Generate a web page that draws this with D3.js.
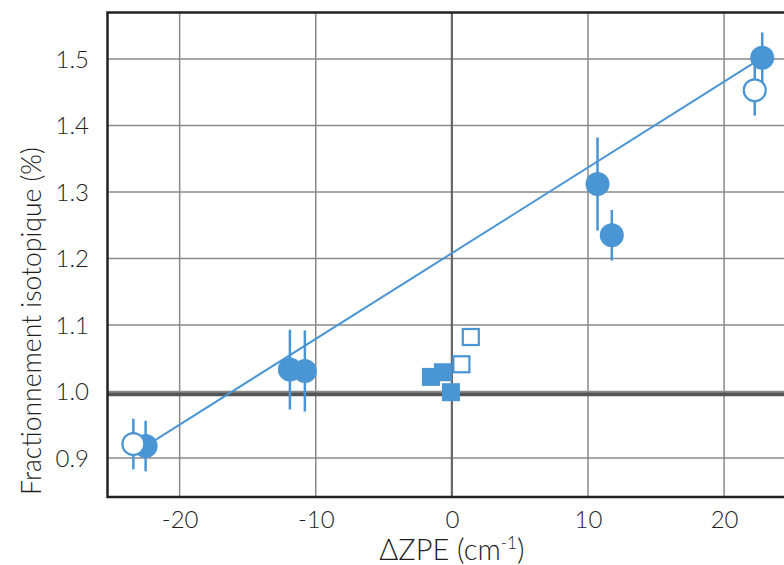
<!DOCTYPE html>
<html>
<head>
<meta charset="utf-8">
<script src="https://cdn.jsdelivr.net/npm/d3@7"></script>
<style>
  html, body { margin: 0; padding: 0; background: #fff; }
  svg { display: block; }
  text { font-family: "Lato", "Open Sans", sans-serif; font-weight: 300; fill: #1e1e1e; }
</style>
</head>
<body>
<script>
// ---- data ----
const xTicks = [-20, -10, 0, 10, 20];
const yTicks = [0.9, 1.0, 1.1, 1.2, 1.3, 1.4, 1.5];
const yTickLabels = ["0.9", "1.0", "1.1", "1.2", "1.3", "1.4", "1.5"];

const filledCircleX = [-22.5, -11.9, -10.8, 10.7, 11.75, 22.8];
const filledCircleY = [0.918, 1.033, 1.031, 1.312, 1.235, 1.502];
const filledCircleErr = [0.038, 0.060, 0.061, 0.070, 0.038, 0.038];

const openCircleX = [-23.4, 22.25];
const openCircleY = [0.921, 1.453];
const openCircleErr = [0.038, 0.038];

const filledSquareX = [-1.54, -0.66, -0.07];
const filledSquareY = [1.022, 1.029, 0.999];

const openSquareX = [0.70, 1.39];
const openSquareY = [1.041, 1.082];

const trendX = [-22.5, 22.8];
const trendY = [0.918, 1.502];

const refLineY = 0.996;
const refLineX = 0;

// ---- layout ----
const W = 784, H = 565;
const blue = "#4a95d3";
const svg = d3.select("body").append("svg").attr("width", W).attr("height", H);

const x = d3.scaleLinear().domain([-25.3, 24.4]).range([107.5, 784]);
const y = d3.scaleLinear().domain([0.8414, 1.570]).range([497, 12.5]);

const xr = x.range(), yr = y.range();

// grid
const grid = svg.append("g");
grid.selectAll("line.gx").data(xTicks.filter(d => d !== 0)).join("line")
  .attr("x1", d => x(d)).attr("x2", d => x(d))
  .attr("y1", yr[1]).attr("y2", yr[0])
  .attr("stroke", "#8a8a8a").attr("stroke-width", 1.5);
grid.selectAll("line.gy").data(yTicks).join("line")
  .attr("x1", xr[0]).attr("x2", xr[1])
  .attr("y1", d => y(d)).attr("y2", d => y(d))
  .attr("stroke", "#8a8a8a").attr("stroke-width", 1.5);

// zero vertical line
svg.append("line")
  .attr("x1", x(refLineX)).attr("x2", x(refLineX))
  .attr("y1", yr[1]).attr("y2", yr[0])
  .attr("stroke", "#666").attr("stroke-width", 2.2);

// reference horizontal line
svg.append("line")
  .attr("x1", xr[0]).attr("x2", xr[1])
  .attr("y1", y(refLineY)).attr("y2", y(refLineY))
  .attr("stroke", "#555").attr("stroke-width", 4);

// frame
svg.append("path")
  .attr("d", `M${xr[1]},${yr[1]} H${xr[0]} V${yr[0]} H${xr[1]}`)
  .attr("fill", "none").attr("stroke", "#222").attr("stroke-width", 2.5);

// axes (labels only)
const xAxis = d3.axisBottom(x).tickValues(xTicks).tickSize(0).tickPadding(0)
  .tickFormat(d => d3.format("d")(d).replace("−", "-"));
const gx = svg.append("g").attr("transform", `translate(0,${yr[0]})`).call(xAxis);
gx.select(".domain").remove();
gx.selectAll("text").attr("dy", null).attr("y", 31)
  .style("font-size", "24px").style("font-family", "Lato, 'Open Sans', sans-serif")
  .style("font-weight", 300).attr("fill", "#1e1e1e");

const yAxis = d3.axisLeft(y).tickValues(yTicks).tickSize(0).tickPadding(0)
  .tickFormat((d, i) => yTickLabels[i]);
const gy = svg.append("g").attr("transform", `translate(89,0)`).call(yAxis);
gy.select(".domain").remove();
gy.selectAll("text").attr("dy", "0.35em")
  .style("font-size", "24px").style("font-family", "Lato, 'Open Sans', sans-serif")
  .style("font-weight", 300).attr("fill", "#1e1e1e");

// axis titles
const xt = svg.append("text").attr("x", x(0)).attr("y", 560)
  .attr("text-anchor", "middle").style("font-size", "29px");
xt.append("tspan").text("ΔZPE (cm");
xt.append("tspan").attr("dy", -11).style("font-size", "17px").text("-1");
xt.append("tspan").attr("dy", 11).text(")");

svg.append("text")
  .attr("transform", `translate(41,321) rotate(-90)`)
  .attr("text-anchor", "middle").style("font-size", "26.5px")
  .text("Fractionnement isotopique (%)");

// trend line
svg.append("line")
  .attr("x1", x(trendX[0])).attr("y1", y(trendY[0]))
  .attr("x2", x(trendX[1])).attr("y2", y(trendY[1]))
  .attr("stroke", blue).attr("stroke-width", 2);

// error bars
const fc = filledCircleX.map((d, i) => ({x: d, y: filledCircleY[i], e: filledCircleErr[i]}));
const oc = openCircleX.map((d, i) => ({x: d, y: openCircleY[i], e: openCircleErr[i]}));
svg.append("g").selectAll("line").data(fc.concat(oc)).join("line")
  .attr("x1", d => x(d.x)).attr("x2", d => x(d.x))
  .attr("y1", d => y(d.y - d.e)).attr("y2", d => y(d.y + d.e))
  .attr("stroke", blue).attr("stroke-width", 2.5);

// filled circles
svg.append("g").selectAll("circle").data(fc).join("circle")
  .attr("cx", d => x(d.x)).attr("cy", d => y(d.y)).attr("r", 12)
  .attr("fill", blue);

// open circles
svg.append("g").selectAll("circle").data(oc).join("circle")
  .attr("cx", d => x(d.x)).attr("cy", d => y(d.y)).attr("r", 11)
  .attr("fill", "#fff").attr("stroke", blue).attr("stroke-width", 2.2);

// squares
const sq = 18;
const fs = filledSquareX.map((d, i) => ({x: d, y: filledSquareY[i]}));
const os = openSquareX.map((d, i) => ({x: d, y: openSquareY[i]}));
svg.append("g").selectAll("rect").data(fs).join("rect")
  .attr("x", d => x(d.x) - sq / 2).attr("y", d => y(d.y) - sq / 2)
  .attr("width", sq).attr("height", sq).attr("fill", blue);
svg.append("g").selectAll("rect").data(os).join("rect")
  .attr("x", d => x(d.x) - (sq - 2) / 2).attr("y", d => y(d.y) - (sq - 2) / 2)
  .attr("width", sq - 2).attr("height", sq - 2)
  .attr("fill", "#fff").attr("stroke", blue).attr("stroke-width", 2.2);
</script>
</body>
</html>
